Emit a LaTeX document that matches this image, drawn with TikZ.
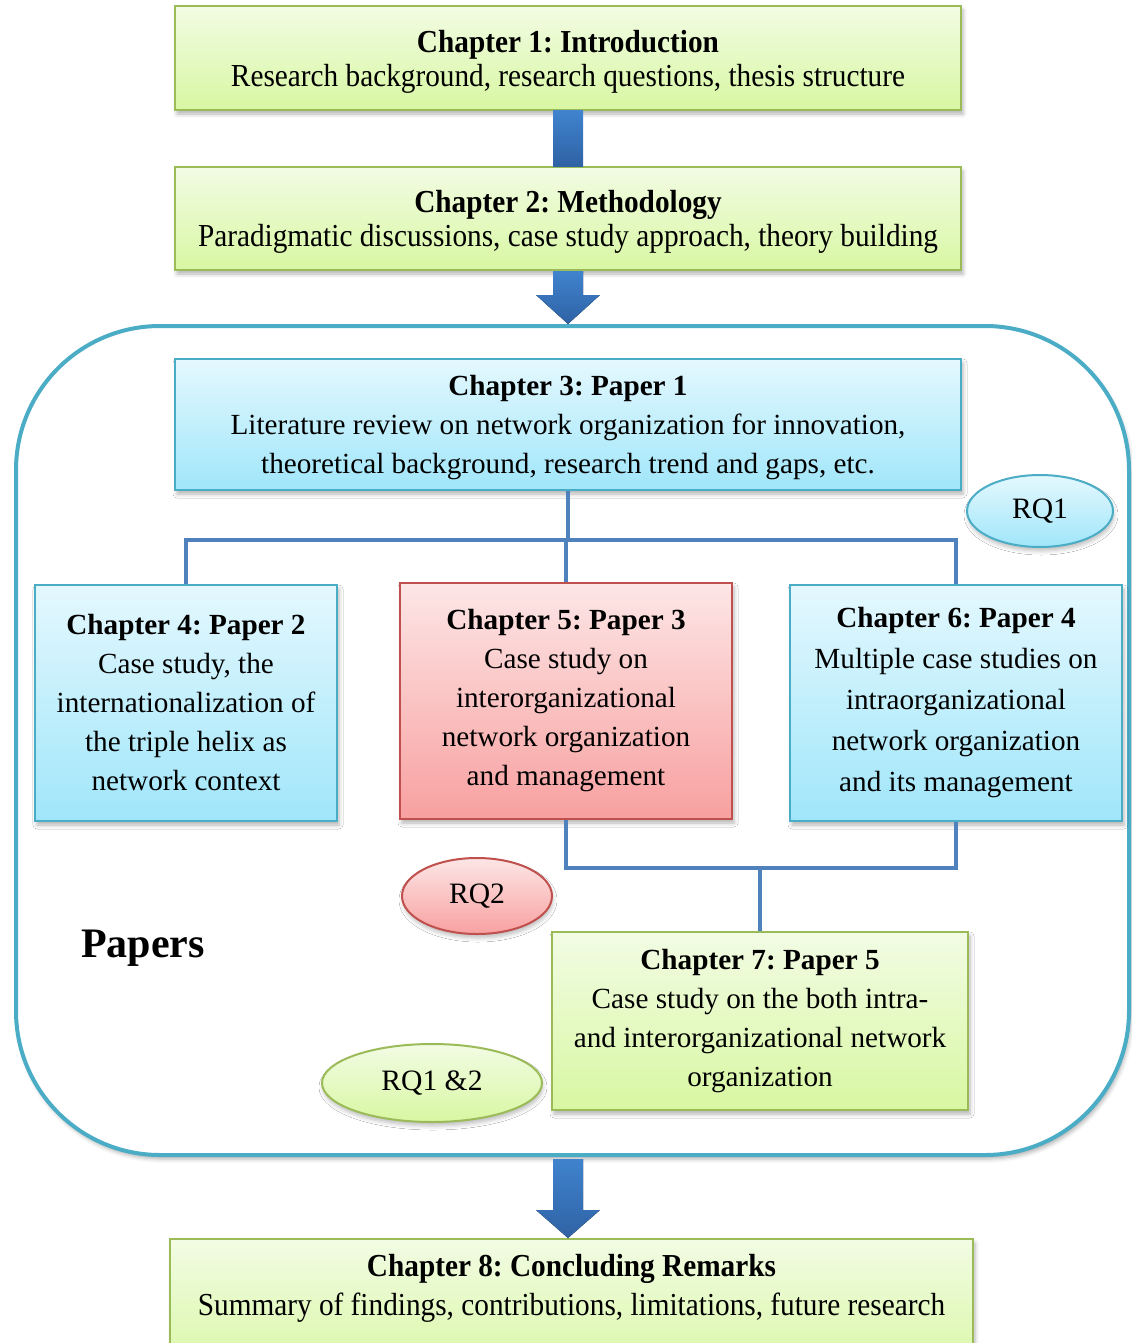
\documentclass[tikz,border=0pt]{standalone}
\usepackage{fontspec}
\setmainfont{Liberation Serif}
\newfontfamily\condfont{Liberation Serif}[FakeStretch=0.915]
\usetikzlibrary{shapes.geometric,calc,shadows.blur}

\definecolor{grnTop}{HTML}{F2FCE4}
\definecolor{grnBot}{HTML}{D8F7A2}
\definecolor{grnLine}{HTML}{9BBB59}
\definecolor{bluTop}{HTML}{E4F8FE}
\definecolor{bluBot}{HTML}{A0E6FA}
\definecolor{bluLine}{HTML}{4BACC6}
\definecolor{redTop}{HTML}{FDE6E6}
\definecolor{redBot}{HTML}{F8A0A0}
\definecolor{redLine}{HTML}{C0504D}
\definecolor{connLine}{HTML}{4F81BD}
\definecolor{arrLight}{HTML}{4083CE}
\definecolor{arrDark}{HTML}{2F62A4}

\tikzset{
  shad/.style={blur shadow={shadow xshift=1pt, shadow yshift=-2pt, shadow blur radius=2pt, shadow opacity=30}},
  box/.style={rectangle, draw, line width=1pt, align=center, inner sep=0pt, shad,
    font=\fontsize{14.6}{19.5}\selectfont},
  condtext/.style={font=\condfont\fontsize{16}{17}\selectfont, text depth=0pt},
  greenbox/.style={box, draw=grnLine, top color=grnTop, bottom color=grnBot},
  bluebox/.style={box, draw=bluLine, top color=bluTop, bottom color=bluBot},
  redbox/.style={box, draw=redLine, top color=redTop, bottom color=redBot},
  rq/.style={ellipse, draw, line width=1pt, inner sep=0pt,
    blur shadow={shadow xshift=0.5pt, shadow yshift=-2pt, shadow blur radius=2pt, shadow opacity=25},
    font=\fontsize{14.8}{17}\selectfont},
  conn/.style={draw=connLine, line width=2pt},
  fatarrow/.style={left color=arrLight, right color=arrDark, shading angle=0},
}

\begin{document}
\frenchspacing
\begin{tikzpicture}[x=0.5pt,y=-0.5pt]
\useasboundingbox (0,0) rectangle (1131,1343);

% outer frame around the papers
\node[rounded corners=72pt, draw=bluLine, line width=2pt, fill=white, shad,
      minimum width=556.5pt, minimum height=414.5pt] (frame) at (572.5,740.5) {};

% introductory chapters
\node[greenbox, condtext, minimum width=393pt, minimum height=52pt] (b1) at (568,58)
  {\textbf{Chapter 1: Introduction}\\
   Research background, research questions, thesis structure};
\node[greenbox, condtext, minimum width=393pt, minimum height=51.5pt] (b2) at (568,218.5)
  {\textbf{Chapter 2: Methodology}\\
   Paradigmatic discussions, case study approach, theory building};

% papers
\node[bluebox, minimum width=393pt, minimum height=65.5pt, text depth=0pt] (b3) at (568,424.5)
  {\textbf{Chapter 3: Paper 1}\\
   Literature review on network organization for innovation,\\
   theoretical background, research trend and gaps, etc.};
\node[bluebox, minimum width=151pt, minimum height=118pt] (b4) at (186,703)
  {\textbf{Chapter 4: Paper 2}\\ Case study, the\\ internationalization of\\
   the triple helix as\\ network context};
\node[redbox, minimum width=166pt, minimum height=118pt] (b5) at (566,701)
  {\textbf{Chapter 5: Paper 3}\\ Case study on\\ interorganizational\\
   network organization\\ and management};
\node[bluebox, minimum width=166pt, minimum height=118pt,
      font=\fontsize{14.6}{20.5}\selectfont] (b6) at (956,703)
  {\textbf{Chapter 6: Paper 4}\\ Multiple case studies on\\ intraorganizational\\
   network organization\\ and its management};
\node[greenbox, minimum width=208pt, minimum height=89pt] (b7) at (760,1021)
  {\textbf{Chapter 7: Paper 5}\\ Case study on the both intra-\\
   and interorganizational network\\ organization};

% research question tags
\node[rq, draw=bluLine, top color=bluTop, bottom color=bluBot,
      minimum width=73pt, minimum height=36pt] (rq1) at (1040,511) {RQ1};
\node[rq, draw=redLine, top color=redTop, bottom color=redBot,
      minimum width=75pt, minimum height=38pt] (rq2) at (477,896) {RQ2};
\node[rq, draw=grnLine, top color=grnTop, bottom color=grnBot,
      minimum width=110pt, minimum height=39pt] (rq12) at (432,1083) {RQ1 \&2};

\node[font=\fontsize{21}{24}\selectfont\bfseries] (papers) at (143,948) {Papers};

% conclusion
\node[greenbox, minimum width=401.5pt, minimum height=70pt, anchor=north] (b8) at (571.5,1238) {};
\node[align=center, inner sep=0pt, font=\condfont\fontsize{16}{19.5}\selectfont] (b8t)
  at ($(b8.north)+(0,-25pt)$)
  {\textbf{Chapter 8: Concluding Remarks}\\
   Summary of findings, contributions, limitations, future research};

% tree connectors
\coordinate (bus) at (568,540);
\coordinate (bus2) at (760,868);
\draw[conn] (b3.south) -- (b3.south |- bus);
\draw[conn] (b4.north) -- (b4.north |- bus) -- (b6.north |- bus) -- (b6.north);
\draw[conn] (b5.north) -- (b5.north |- bus);
\draw[conn] (b5.south) -- (b5.south |- bus2) -- (b6.south |- bus2) -- (b6.south);
\draw[conn] (b7.north) -- (b7.north |- bus2);

% block arrows between stages
\coordinate (tipA) at (b2.south |- frame.north);
\coordinate (tailB) at (b2.south |- frame.south);
\coordinate (tipB) at (b2.south |- b8.north);
\fill[fatarrow] ($(b1.south)+(-7.5pt,0)$) rectangle ($(b2.north)+(7.5pt,0)$);
\fill[fatarrow] ($(b2.south)+(-7.5pt,0)$) -- ($(tipA)+(-7.5pt,14.5pt)$)
  -- ($(tipA)+(-16pt,14.5pt)$) -- (tipA)
  -- ($(tipA)+(16pt,14.5pt)$) -- ($(tipA)+(7.5pt,14.5pt)$)
  -- ($(b2.south)+(7.5pt,0)$) -- cycle;
\fill[fatarrow] ($(tailB)+(-7.5pt,-1pt)$) -- ($(tipB)+(-7.5pt,14pt)$)
  -- ($(tipB)+(-16pt,14pt)$) -- (tipB)
  -- ($(tipB)+(16pt,14pt)$) -- ($(tipB)+(7.5pt,14pt)$)
  -- ($(tailB)+(7.5pt,-1pt)$) -- cycle;
\end{tikzpicture}
\end{document}
